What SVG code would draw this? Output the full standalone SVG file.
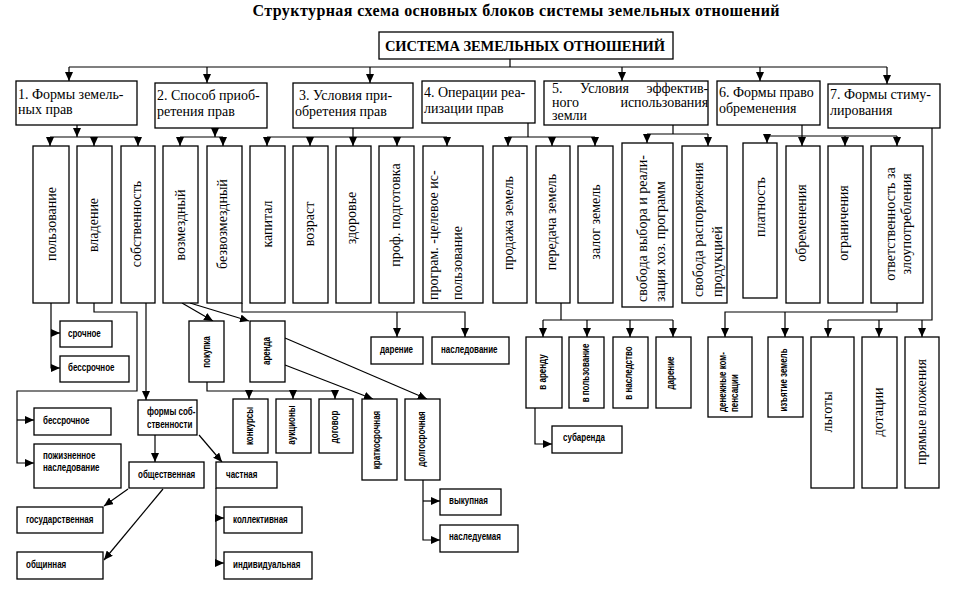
<svg xmlns="http://www.w3.org/2000/svg" width="962" height="596" viewBox="0 0 962 596">
<style>
.b{fill:#fff;stroke:#000;stroke-width:1.3}
.t{font-family:"Liberation Serif","Times New Roman",serif;font-size:14px;fill:#000}
.h{font-family:"Liberation Serif","Times New Roman",serif;font-weight:bold;fill:#000}
.s{font-family:"Liberation Sans","Arial",sans-serif;font-weight:bold;font-size:10px;fill:#000}
.m{text-anchor:middle}
.c{fill:none;stroke:#000;stroke-width:1.2}
.a{marker-end:url(#ah)}
</style>
<defs>
<marker id="ah" viewBox="0 0 9 8" refX="9" refY="4" markerWidth="9" markerHeight="8" markerUnits="userSpaceOnUse" orient="auto"><path d="M0,0 L9,4 L0,8 Z" fill="#000"/></marker>
</defs>
<rect width="962" height="596" fill="#fff"/>
<text class="h m" x="516" y="16" font-size="16" textLength="527">Структурная схема основных блоков системы земельных отношений</text>

<g id="connectors">
<path class="c" d="M510,59 V67 M69,67 H887"/>
<path class="c a" d="M69,67 V81"/><path class="c a" d="M207,67 V83"/><path class="c a" d="M370,67 V83"/>
<path class="c a" d="M622,67 V81"/><path class="c a" d="M760,67 V81"/><path class="c a" d="M887,67 V84"/>
<path class="c a" d="M77,125 V137"/><path class="c" d="M50,137 H138"/>
<path class="c a" d="M50,137 V146"/><path class="c a" d="M94,137 V146"/><path class="c a" d="M138,137 V146"/>
<path class="c a" d="M215,128 V137"/><path class="c" d="M180,137 H223"/>
<path class="c a" d="M180,137 V146"/><path class="c a" d="M223,137 V146"/>
<path class="c a" d="M353,128 V146"/><path class="c" d="M267,137 H447"/>
<path class="c a" d="M267,137 V146"/><path class="c a" d="M310,137 V146"/><path class="c a" d="M397,137 V146"/><path class="c a" d="M447,137 V146"/>
<path class="c" d="M528,123 V137 M508,137 H595"/>
<path class="c a" d="M508,137 V146"/><path class="c a" d="M552,137 V146"/><path class="c a" d="M595,137 V146"/>
<path class="c" d="M673,125 V134 M647,134 H708"/>
<path class="c a" d="M647,134 V143"/><path class="c a" d="M708,134 V146"/>
<path class="c a" d="M802,125 V146"/><path class="c" d="M767,136 H897"/>
<path class="c a" d="M767,136 V143"/><path class="c a" d="M845,136 V146"/><path class="c a" d="M897,136 V146"/>
<path class="c" d="M932,128 V320 H828"/>
<path class="c a" d="M828,320 V337"/><path class="c a" d="M879,320 V337"/><path class="c a" d="M922,320 V337"/>
<path class="c a" d="M51,303 V368 H60"/><path class="c a" d="M51,333 H60"/>
<path class="c a" d="M94,303 V312 H137 V391 H17 V463 H34"/><path class="c a" d="M17,420 H34"/>
<path class="c a" d="M146,303 V400"/>
<path class="c a" d="M155,435 V462"/>
<path class="c a" d="M199,435 L222,462"/>
<path class="c a" d="M128,489 L104,506"/>
<path class="c a" d="M163,489 L104,560"/>
<path class="c a" d="M216,488 V563 H224"/><path class="c a" d="M216,518 H224"/>
<path class="c a" d="M182,303 L213,321"/><path class="c a" d="M190,303 L249,321"/>
<path class="c a" d="M207,382 V391 H335 V399"/><path class="c a" d="M249,391 V399"/><path class="c a" d="M293,391 V399"/>
<path class="c a" d="M285,338 L427,399"/><path class="c a" d="M285,365 L373,399"/>
<path class="c a" d="M423,480 V540 H440"/><path class="c a" d="M423,501 H440"/>
<path class="c a" d="M242,303 V312 H465 V337"/><path class="c a" d="M397,312 V337"/>
<path class="c" d="M561,303 V320 M543,320 H673"/>
<path class="c a" d="M543,320 V337"/><path class="c a" d="M587,320 V337"/><path class="c a" d="M630,320 V337"/><path class="c a" d="M673,320 V337"/>
<path class="c a" d="M535,408 V444 H552"/>
<path class="c a" d="M897,303 V312 H725 V337"/><path class="c a" d="M785,312 V337"/>
</g>

<g id="root"><rect class="b" x="379" y="32" width="294" height="27"/><text class="h m" x="525" y="51" font-size="14.5" textLength="280">СИСТЕМА ЗЕМЕЛЬНЫХ ОТНОШЕНИЙ</text></g>

<g id="n1"><rect class="b" x="16" y="81" width="121" height="44"/><text class="t" x="18" y="99">1. Формы земель-</text><text class="t" x="18" y="114">ных прав</text></g>
<g id="n2"><rect class="b" x="155" y="83" width="112" height="45"/><text class="t" x="157" y="100">2. Способ приоб-</text><text class="t" x="157" y="116">ретения прав</text></g>
<g id="n3"><rect class="b" x="293" y="83" width="120" height="45"/><text class="t" x="299" y="100">3. Условия при-</text><text class="t" x="295" y="116">обретения прав</text></g>
<g id="n4"><rect class="b" x="422" y="81" width="113" height="42"/><text class="t" x="424" y="97">4. Операции реа-</text><text class="t" x="424" y="113">лизации прав</text></g>
<g id="n5"><rect class="b" x="544" y="81" width="164" height="44"/>
<text class="t" x="552" y="93" font-size="12.5" word-spacing="14">5. Условия эффектив-</text>
<text class="t" x="552" y="106.5" font-size="12.5" word-spacing="38">ного использования</text>
<text class="t" x="552" y="120" font-size="12.5">земли</text></g>
<g id="n6"><rect class="b" x="717" y="81" width="103" height="44"/><text class="t" x="719" y="97">6. Формы право</text><text class="t" x="719" y="113">обременения</text></g>
<g id="n7"><rect class="b" x="828" y="84" width="112" height="44"/><text class="t" x="830" y="99">7. Формы стиму-</text><text class="t" x="830" y="115">лирования</text></g>

<g id="r1"><rect class="b" x="33" y="146" width="36" height="157"/><text class="t m" transform="translate(56,224) rotate(-90)">пользование</text></g>
<g id="r2"><rect class="b" x="77" y="146" width="35" height="157"/><text class="t m" transform="translate(98,225) rotate(-90)">владение</text></g>
<g id="r3"><rect class="b" x="121" y="146" width="34" height="157"/><text class="t m" transform="translate(141,224) rotate(-90)">собственность</text></g>
<g id="r4"><rect class="b" x="163" y="146" width="35" height="157"/><text class="t m" transform="translate(185,225) rotate(-90)">возмездный</text></g>
<g id="r5"><rect class="b" x="207" y="146" width="35" height="157"/><text class="t m" transform="translate(227,224) rotate(-90)">безвозмездный</text></g>
<g id="r6"><rect class="b" x="250" y="146" width="35" height="157"/><text class="t m" transform="translate(272,224) rotate(-90)">капитал</text></g>
<g id="r7"><rect class="b" x="293" y="146" width="35" height="157"/><text class="t m" transform="translate(314,224) rotate(-90)">возраст</text></g>
<g id="r8"><rect class="b" x="336" y="146" width="35" height="157"/><text class="t m" transform="translate(356,218) rotate(-90)">здоровье</text></g>
<g id="r9"><rect class="b" x="379" y="146" width="35" height="157"/><text class="t m" transform="translate(400,215) rotate(-90)">проф. подготовка</text></g>
<g id="r10"><rect class="b" x="423" y="146" width="60" height="157"/><text class="t" transform="translate(438,300) rotate(-90)">програм. -целевое ис-</text><text class="t" transform="translate(462,300) rotate(-90)">пользование</text></g>
<g id="r11"><rect class="b" x="493" y="146" width="34" height="157"/><text class="t m" transform="translate(513,223) rotate(-90)">продажа земель</text></g>
<g id="r12"><rect class="b" x="536" y="146" width="34" height="157"/><text class="t m" transform="translate(556,222) rotate(-90)">передача земель</text></g>
<g id="r13"><rect class="b" x="578" y="146" width="35" height="157"/><text class="t m" transform="translate(600,222) rotate(-90)">залог земель</text></g>
<g id="r14"><rect class="b" x="622" y="143" width="51" height="164"/><text class="t" transform="translate(647,302) rotate(-90)">свобода выбора и реали-</text><text class="t" transform="translate(665,302) rotate(-90)">зация хоз. программ</text></g>
<g id="r15"><rect class="b" x="682" y="146" width="45" height="157"/><text class="t" transform="translate(703,297) rotate(-90)">свобода распоряжения</text><text class="t" transform="translate(722,297) rotate(-90)">продукцией</text></g>
<g id="r16"><rect class="b" x="743" y="143" width="34" height="155"/><text class="t m" transform="translate(765,207) rotate(-90)">платность</text></g>
<g id="r17"><rect class="b" x="786" y="146" width="34" height="157"/><text class="t m" transform="translate(806,223) rotate(-90)">обременения</text></g>
<g id="r18"><rect class="b" x="828" y="146" width="35" height="157"/><text class="t m" transform="translate(848,223) rotate(-90)">ограничения</text></g>
<g id="r19"><rect class="b" x="871" y="146" width="52" height="157"/><text class="t m" transform="translate(895,224) rotate(-90)">ответственность за</text><text class="t m" transform="translate(911,224) rotate(-90)">злоупотребления</text></g>

<g id="srochnoe"><rect class="b" x="60" y="321" width="52" height="26"/><text class="s" transform="translate(68,337) scale(0.8,1)">срочное</text></g>
<g id="bessrochnoe1"><rect class="b" x="60" y="356" width="69" height="26"/><text class="s" transform="translate(68,371) scale(0.8,1)">бессрочное</text></g>
<g id="bessrochnoe2"><rect class="b" x="34" y="408" width="77" height="27"/><text class="s" transform="translate(43,424) scale(0.8,1)">бессрочное</text></g>
<g id="pozhiznennoe"><rect class="b" x="34" y="444" width="87" height="44"/><text class="s" transform="translate(43,459) scale(0.8,1)">пожизненное</text><text class="s" transform="translate(43,471) scale(0.8,1)">наследование</text></g>
<g id="formy"><rect class="b" x="138" y="400" width="59" height="35"/><text class="s" transform="translate(147,415) scale(0.8,1)">формы соб-</text><text class="s" transform="translate(147,428) scale(0.8,1)">ственности</text></g>
<g id="obshchestv"><rect class="b" x="129" y="462" width="75" height="26"/><text class="s" transform="translate(138,478) scale(0.8,1)">общественная</text></g>
<g id="chastnaya"><rect class="b" x="216" y="462" width="61" height="26"/><text class="s" transform="translate(226,478) scale(0.8,1)">частная</text></g>
<g id="gosud"><rect class="b" x="17" y="507" width="86" height="26"/><text class="s" transform="translate(26,523) scale(0.8,1)">государственная</text></g>
<g id="obshchin"><rect class="b" x="17" y="552" width="86" height="27"/><text class="s" transform="translate(26,568) scale(0.8,1)">общинная</text></g>
<g id="kollekt"><rect class="b" x="224" y="507" width="78" height="26"/><text class="s" transform="translate(233,523) scale(0.8,1)">коллективная</text></g>
<g id="individ"><rect class="b" x="224" y="552" width="88" height="27"/><text class="s" transform="translate(233,568) scale(0.8,1)">индивидуальная</text></g>
<g id="pokupka"><rect class="b" x="189" y="321" width="35" height="61"/><text class="s m" transform="translate(210,352) rotate(-90) scale(0.8,1)">покупка</text></g>
<g id="arenda"><rect class="b" x="250" y="321" width="35" height="61"/><text class="s m" transform="translate(270,351) rotate(-90) scale(0.8,1)">аренда</text></g>
<g id="konkursy"><rect class="b" x="233" y="399" width="35" height="54"/><text class="s m" transform="translate(253,426) rotate(-90) scale(0.8,1)">конкурсы</text></g>
<g id="auktsiony"><rect class="b" x="276" y="399" width="35" height="54"/><text class="s m" transform="translate(295,425) rotate(-90) scale(0.8,1)">аукционы</text></g>
<g id="dogovor"><rect class="b" x="319" y="399" width="34" height="54"/><text class="s m" transform="translate(338,427) rotate(-90) scale(0.8,1)">договор</text></g>
<g id="kratko"><rect class="b" x="362" y="399" width="35" height="81"/><text class="s m" transform="translate(380,440) rotate(-90) scale(0.8,1)">краткосрочная</text></g>
<g id="dolgo"><rect class="b" x="405" y="399" width="35" height="81"/><text class="s m" transform="translate(425,439) rotate(-90) scale(0.8,1)">долгосрочная</text></g>
<g id="vykup"><rect class="b" x="440" y="489" width="61" height="26"/><text class="s" transform="translate(449,504) scale(0.8,1)">выкупная</text></g>
<g id="nasleduemaya"><rect class="b" x="440" y="525" width="78" height="27"/><text class="s" transform="translate(449,540) scale(0.8,1)">наследуемая</text></g>
<g id="darenie1"><rect class="b" x="371" y="337" width="52" height="27"/><text class="s" transform="translate(380,353) scale(0.8,1)">дарение</text></g>
<g id="nasledovanie"><rect class="b" x="432" y="337" width="77" height="27"/><text class="s" transform="translate(441,353) scale(0.8,1)">наследование</text></g>
<g id="v_arendu"><rect class="b" x="526" y="337" width="36" height="71"/><text class="s m" transform="translate(546,372) rotate(-90) scale(0.8,1)">в аренду</text></g>
<g id="v_polz"><rect class="b" x="569" y="337" width="35" height="71"/><text class="s m" transform="translate(589,373) rotate(-90) scale(0.8,1)">в пользование</text></g>
<g id="v_nasl"><rect class="b" x="613" y="337" width="35" height="71"/><text class="s m" transform="translate(632,373) rotate(-90) scale(0.8,1)">в наследство</text></g>
<g id="darenie2"><rect class="b" x="656" y="337" width="35" height="71"/><text class="s m" transform="translate(674,373) rotate(-90) scale(0.8,1)">дарение</text></g>
<g id="subarenda"><rect class="b" x="552" y="426" width="70" height="27"/><text class="s" transform="translate(563,441) scale(0.8,1)">субаренда</text></g>
<g id="denezh"><rect class="b" x="708" y="337" width="44" height="80"/><text class="s" transform="translate(726,412) rotate(-90) scale(0.8,1)">денежные ком-</text><text class="s" transform="translate(738,412) rotate(-90) scale(0.8,1)">пенсации</text></g>
<g id="izyatie"><rect class="b" x="768" y="337" width="35" height="80"/><text class="s m" transform="translate(787,380) rotate(-90) scale(0.8,1)">изъятие земель</text></g>
<g id="lgoty"><rect class="b" x="811" y="337" width="43" height="151"/><text class="t m" transform="translate(832,412) rotate(-90)">льготы</text></g>
<g id="dotatsii"><rect class="b" x="862" y="337" width="35" height="151"/><text class="t m" transform="translate(883,412) rotate(-90)">дотации</text></g>
<g id="pryamye"><rect class="b" x="905" y="337" width="34" height="151"/><text class="t m" transform="translate(926,412) rotate(-90)">прямые вложения</text></g>
</svg>
